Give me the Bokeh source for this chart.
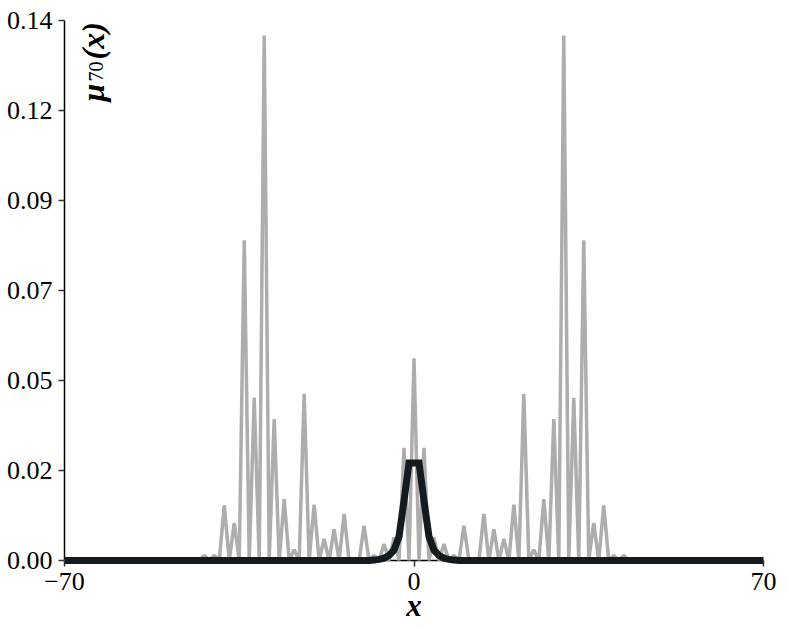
from bokeh.plotting import figure
from bokeh.models import Range1d, FixedTicker, CustomJSTickFormatter, Label, ColumnDataSource
from bokeh.embed import file_html
from bokeh.resources import INLINE
from math import pi

# ---- data ----
site_x = [-70] + list(range(-44, 45)) + [70]

# gray: probability at time 70 (odd sites are zero)
gray_half = {0: 0.0524, 2: 0.0292, 4: 0.0060, 6: 0.0043, 8: 0.0013, 10: 0.0090,
             12: 0.0002, 14: 0.0121, 16: 0.0081, 18: 0.0056, 20: 0.0145, 22: 0.0432,
             24: 0.0028, 26: 0.0159, 28: 0.0367, 30: 0.1361, 32: 0.0422, 34: 0.0830,
             36: 0.0097, 38: 0.0143, 40: 0.0013, 42: 0.0013, 44: 0.0}
gray_p = [gray_half.get(abs(x), 0.0) for x in site_x]

# black: smooth curve around the origin
black_half = {0: 0.0253, 1: 0.0253, 2: 0.0155, 3: 0.0062, 4: 0.0027, 5: 0.0013,
              6: 0.0006, 7: 0.0003, 8: 0.0001}
black_p = [black_half.get(abs(x), 0.0) for x in site_x]

x_ticks = [-70, 0, 70]
x_tick_labels = ["\u221270", "0", "70"]
y_ticks = [0.0, 0.14 / 6, 0.28 / 6, 0.42 / 6, 0.56 / 6, 0.70 / 6, 0.14]
y_tick_labels = ["0.00", "0.02", "0.05", "0.07", "0.09", "0.12", "0.14"]

SERIF = "Liberation Serif"

p = figure(frame_width=699, frame_height=540, output_backend="svg", toolbar_location=None,
           x_range=Range1d(-70, 70), y_range=Range1d(0, 0.14),
           min_border_left=64, min_border_right=26, min_border_top=20, min_border_bottom=69)
p.outline_line_color = None
p.xgrid.visible = False
p.ygrid.visible = False
p.background_fill_color = "white"
p.border_fill_color = "white"

src = ColumnDataSource(dict(x=site_x, g=gray_p, b=black_p))
p.line("x", "g", source=src, line_color="#adadad", line_width=3.5, level="annotation")
p.line("x", "b", source=src, line_color="#141b1e", line_width=7, level="annotation",
       line_join="miter")

fmt_js = """
let best = 0; let d = 1e9;
for (let i = 0; i < vals.length; i++) { const e = Math.abs(vals[i] - tick); if (e < d) { d = e; best = i; } }
return labs[best];
"""
p.xaxis.ticker = FixedTicker(ticks=x_ticks)
p.xaxis.formatter = CustomJSTickFormatter(args=dict(vals=x_ticks, labs=x_tick_labels), code=fmt_js)
p.yaxis.ticker = FixedTicker(ticks=y_ticks)
p.yaxis.formatter = CustomJSTickFormatter(args=dict(vals=y_ticks, labs=y_tick_labels), code=fmt_js)

for ax in (p.xaxis[0], p.yaxis[0]):
    ax.axis_line_color = "black"
    ax.axis_line_width = 1.5
    ax.major_tick_line_color = "#333333"
    ax.major_tick_line_width = 1.5
    ax.major_tick_out = 6
    ax.major_tick_in = 0
    ax.minor_tick_line_color = None
    ax.major_label_text_font = SERIF
    ax.major_label_text_font_size = "26px"
    ax.major_label_text_color = "black"
p.yaxis.major_label_standoff = 6
p.xaxis.major_label_standoff = 6

p.xaxis.axis_label = "x"
p.xaxis.axis_label_text_font = SERIF
p.xaxis.axis_label_text_font_style = "bold italic"
p.xaxis.axis_label_text_font_size = "31px"
p.xaxis.axis_label_text_color = "black"
p.xaxis.axis_label_standoff = -5

def px_to_x(px):
    return -70 + (px - 64) * 140 / 699

def py_to_y(py):
    return (560 - py) * 0.14 / 540

# rotated y label  mu_70(x)
for txt, py, bx, size, style in [("\u03bc", 101, 92, "32px", "bold italic"),
                                 ("70", 81, 95, "20px", "normal"),
                                 ("(x)", 59, 92, "32px", "bold italic")]:
    p.add_layout(Label(x=px_to_x(bx), y=py_to_y(py), text=txt, angle=pi / 2,
                       text_align="left", text_baseline="alphabetic",
                       text_font=SERIF, text_font_style=style, text_font_size=size,
                       text_color="black"))

open("out.html", "w").write(file_html(p, INLINE))
